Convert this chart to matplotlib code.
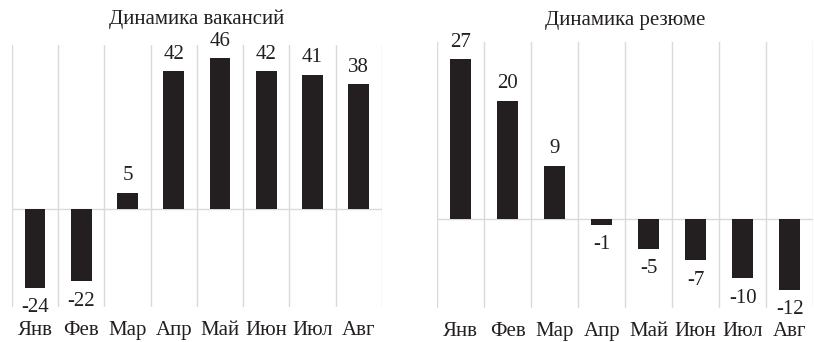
import matplotlib
matplotlib.use('Agg')
import matplotlib.pyplot as plt
import numpy as np

plt.rcParams['font.family'] = ['Liberation Serif', 'DejaVu Serif']

months = ['Янв', 'Фев', 'Мар', 'Апр', 'Май', 'Июн', 'Июл', 'Авг']
vacancies = [-24, -22, 5, 42, 46, 42, 41, 38]
resumes = [27, 20, 9, -1, -5, -7, -10, -12]

BAR = '#231f20'
GRID = '#d9d9d9'
FS = 15


def draw_panel(ax, values, title, ylim, title_pad):
    x = np.arange(len(values))
    ax.bar(x, values, width=0.45, color=BAR, zorder=3)
    ax.set_xlim(-0.5, len(values) - 0.5)
    ax.set_ylim(*ylim)

    # vertical separators between categories
    ax.set_xticks(np.arange(-0.5, len(values)), minor=True)
    ax.grid(which='minor', axis='x', color=GRID, linewidth=1)
    ax.axhline(0, color=GRID, linewidth=1, zorder=2)

    ax.set_xticks(x)
    ax.set_xticklabels(months, fontsize=FS, color=BAR)
    ax.tick_params(axis='x', which='both', length=0, pad=10)
    ax.set_yticks([])
    for s in ax.spines.values():
        s.set_visible(False)

    for xi, v in zip(x, values):
        if v >= 0:
            ax.annotate(str(v), (xi, v), xytext=(0, 5.5), textcoords='offset points',
                        ha='center', va='bottom', fontsize=FS, color=BAR)
        else:
            ax.annotate(str(v), (xi, v), xytext=(0, -7.5), textcoords='offset points',
                        ha='center', va='top', fontsize=FS, color=BAR)

    ax.set_title(title, fontsize=FS, color=BAR, pad=title_pad)


fig = plt.figure(figsize=(8.14, 3.42), dpi=100)
ax1 = fig.add_axes([0.0147, 0.101, 0.4545, 0.767])
ax2 = fig.add_axes([0.537, 0.100, 0.462, 0.778])

draw_panel(ax1, vacancies, 'Динамика вакансий', (-30, 50), 15)
draw_panel(ax2, resumes, 'Динамика резюме', (-15, 30), 12)

fig.savefig('out.png', dpi=100)
